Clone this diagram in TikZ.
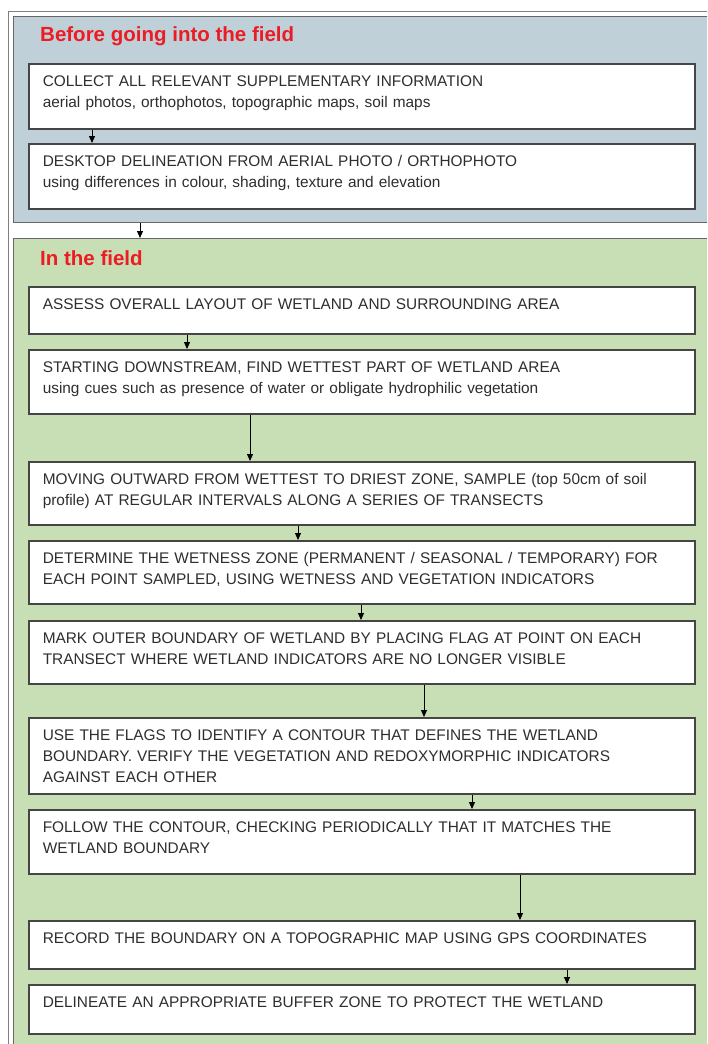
\documentclass[tikz,border=0pt]{standalone}
\usepackage{fontspec}
\setmainfont{Liberation Sans}
\usetikzlibrary{arrows.meta, positioning, calc}

\definecolor{beforebg}{HTML}{C0D0D8}
\definecolor{fieldbg}{HTML}{C8DEB4}
\definecolor{panelline}{HTML}{666666}
\definecolor{boxline}{HTML}{454545}
\definecolor{steptext}{HTML}{2E2E2E}
\definecolor{titlered}{HTML}{EC1C24}

\begin{document}
\begin{tikzpicture}[x=1pt, y=-1pt,
  panel/.style={draw=panelline, line width=1.2pt, anchor=north west, minimum width=720pt, inner sep=0pt},
  stepbox/.style={draw=boxline, fill=white, line width=1.5pt, anchor=north west, minimum width=666pt, text width=638pt, inner xsep=14pt, inner ysep=4pt, text height=18.5pt, align=left, text=steptext, font=\fontsize{15.4}{21}\selectfont},
  heading/.style={anchor=west, text=titlered, inner sep=0pt, font=\fontsize{20.5}{22}\selectfont\bfseries},
  flow/.style={-{Triangle[length=7pt, width=6pt]}, line width=0.9pt}
]

\clip (0,0) rectangle (707,1044);
\fill[white] (0,0) rectangle (707,1044);

% outer frame
\draw[draw=gray, double, double distance=2pt, line width=0.7pt] (9.5,1100) |- (800,12.5);

% panels
\node[panel, fill=beforebg, minimum height=206pt] (before) at (13,16) {};
\node[panel, fill=fieldbg, minimum height=820pt] (field) at (13,238) {};
\node[heading] (beforeTitle) at (40,36) {Before going into the field};
\node[heading] (fieldTitle) at (40,258) {In the field};

% steps before going into the field
\node[stepbox, text depth=38.5pt] (collect) at (28,63) {COLLECT ALL RELEVANT SUPPLEMENTARY INFORMATION\\aerial photos, orthophotos, topographic maps, soil maps};
\node[stepbox, text depth=38.5pt] (desktop) at (28,143) {DESKTOP DELINEATION FROM AERIAL PHOTO / ORTHOPHOTO\\using differences in colour, shading, texture and elevation};

% steps in the field
\node[stepbox, text depth=20.5pt] (assess) at (28,286) {ASSESS OVERALL LAYOUT OF WETLAND AND SURROUNDING AREA};
\node[stepbox, text depth=37.5pt] (wettest) at (28,349) {STARTING DOWNSTREAM, FIND WETTEST PART OF WETLAND AREA\\using cues such as presence of water or obligate hydrophilic vegetation};
\node[stepbox, text depth=36.5pt] (outward) at (28,461) {MOVING OUTWARD FROM WETTEST TO DRIEST ZONE, SAMPLE (top 50cm of soil\\profile) AT REGULAR INTERVALS ALONG A SERIES OF TRANSECTS};
\node[stepbox, text depth=36.5pt] (zone) at (28,540) {DETERMINE THE WETNESS ZONE (PERMANENT / SEASONAL / TEMPORARY) FOR\\EACH POINT SAMPLED, USING WETNESS AND VEGETATION INDICATORS};
\node[stepbox, text depth=36.5pt] (mark) at (28,620) {MARK OUTER BOUNDARY OF WETLAND BY PLACING FLAG AT POINT ON EACH\\TRANSECT WHERE WETLAND INDICATORS ARE NO LONGER VISIBLE};
\node[stepbox, text depth=49.5pt] (contour) at (28,717) {USE THE FLAGS TO IDENTIFY A CONTOUR THAT DEFINES THE WETLAND\\BOUNDARY. VERIFY THE VEGETATION AND REDOXYMORPHIC INDICATORS\\AGAINST EACH OTHER};
\node[stepbox, text depth=37.5pt] (follow) at (28,809) {FOLLOW THE CONTOUR, CHECKING PERIODICALLY THAT IT MATCHES THE\\WETLAND BOUNDARY};
\node[stepbox, text depth=21.5pt] (record) at (28,920) {RECORD THE BOUNDARY ON A TOPOGRAPHIC MAP USING GPS COORDINATES};
\node[stepbox, text depth=22.5pt] (buffer) at (28,984) {DELINEATE AN APPROPRIATE BUFFER ZONE TO PROTECT THE WETLAND};

% Arrows - before the field
\draw[flow] (collect.south -| 92,0) -- (desktop.north -| 92,0);
\draw[flow] (before.south -| 140,0) -- (field.north -| 140,0);

% Arrows - in the field
\draw[flow] (assess.south -| 187,0) -- (wettest.north -| 187,0);
\draw[flow] (wettest.south -| 250,0) -- (outward.north -| 250,0);
\draw[flow] (outward.south -| 298,0) -- (zone.north -| 298,0);
\draw[flow] (zone.south -| 361,0) -- (mark.north -| 361,0);
\draw[flow] (mark.south -| 424,0) -- (contour.north -| 424,0);
\draw[flow] (contour.south -| 472,0) -- (follow.north -| 472,0);
\draw[flow] (follow.south -| 520,0) -- (record.north -| 520,0);
\draw[flow] (record.south -| 567,0) -- (buffer.north -| 567,0);

\end{tikzpicture}
\end{document}
